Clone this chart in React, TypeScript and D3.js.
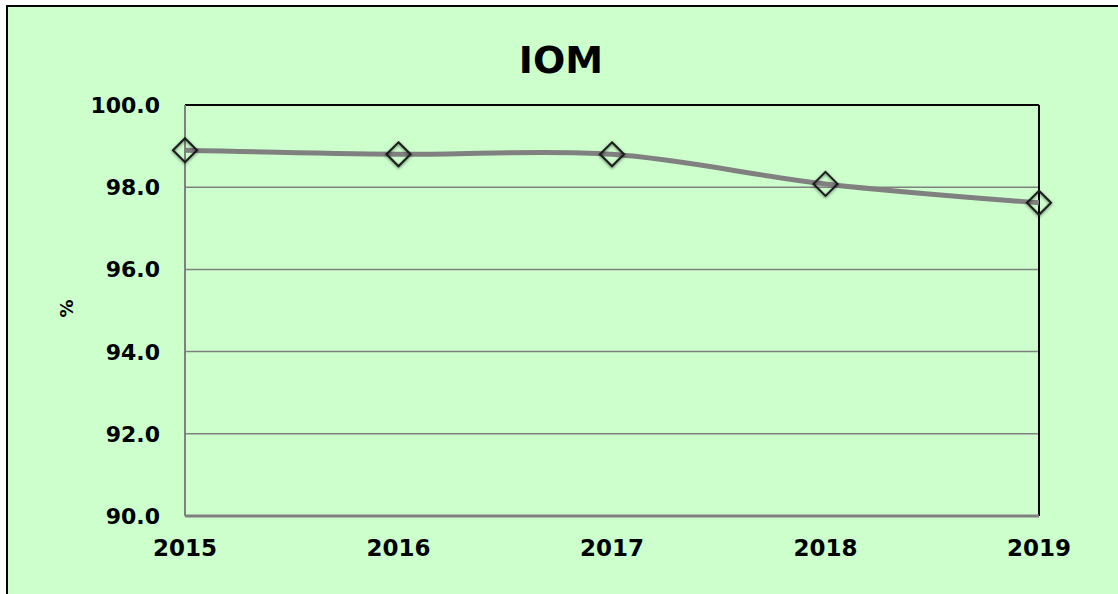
import * as d3 from "d3";
import React from "react";

const years = ["2015", "2016", "2017", "2018", "2019"];
const values = [98.9, 98.8, 98.8, 98.08, 97.62];
const yTicks = [90, 92, 94, 96, 98, 100];

const width = 1118;
const height = 594;
const left = 185;
const top = 105;
const right = 1039;
const bottom = 516;
const font = "'DejaVu Sans', Verdana, sans-serif";

const App = () => {
  const xScale = d3.scalePoint<string>().domain(years).range([left, right]);
  const yScale = d3.scaleLinear().domain([90, 100]).range([bottom, top]);

  const line = d3
    .line<number>()
    .x((d, i) => xScale(years[i]) as number)
    .y((d) => yScale(d))
    .curve(d3.curveCatmullRom.alpha(0.5));

  const r = 12;

  return (
    <svg
      width={width}
      height={height}
      style={{ position: "absolute", left: 0, top: 0, background: "#fff" }}
    >
      <defs>
        <filter id="shadow" x="-50%" y="-50%" width="200%" height="200%">
          <feDropShadow dx="0" dy="1" stdDeviation="1.8" floodColor="#000" floodOpacity="0.55" />
        </filter>
      </defs>
      <rect x={7} y={6} width={1125} height={600} fill="#ccffcc" stroke="#000" strokeWidth={2} />

      <text x={561} y={73} textAnchor="middle" fontFamily={font} fontWeight="bold" fontSize={38}>
        IOM
      </text>

      {yTicks.slice(1, 5).map((t) => (
        <line key={t} x1={left} x2={right} y1={yScale(t)} y2={yScale(t)} stroke="#808080" strokeWidth={1.5} />
      ))}
      <line x1={left} x2={right} y1={top} y2={top} stroke="#000" strokeWidth={2} />
      <line x1={right} x2={right} y1={top} y2={bottom} stroke="#000" strokeWidth={2} />
      <line x1={left} x2={left} y1={top} y2={bottom} stroke="#808080" strokeWidth={2} />
      <line x1={left} x2={right} y1={bottom} y2={bottom} stroke="#808080" strokeWidth={3} />

      {yTicks.map((t) => (
        <text
          key={t}
          x={160}
          y={yScale(t) + 8}
          textAnchor="end"
          fontFamily={font}
          fontWeight="bold"
          fontSize={22}
        >
          {t.toFixed(1)}
        </text>
      ))}

      {years.map((y) => (
        <text
          key={y}
          x={xScale(y)}
          y={556}
          textAnchor="middle"
          fontFamily={font}
          fontWeight="bold"
          fontSize={23}
        >
          {y}
        </text>
      ))}

      <text
        transform={`translate(73,${(top + bottom) / 2 - 2}) rotate(-90)`}
        textAnchor="middle"
        fontFamily={font}
        fontWeight="bold"
        fontSize={18}
      >
        %
      </text>

      <path d={line(values) || ""} fill="none" stroke="#808080" strokeWidth={5} />

      {values.map((v, i) => {
        const cx = xScale(years[i]) as number;
        const cy = yScale(v);
        return (
          <path
            key={i}
            d={`M${cx},${cy - r}L${cx + r},${cy}L${cx},${cy + r}L${cx - r},${cy}Z`}
            fill="none"
            stroke="#1a1a1a"
            strokeWidth={2}
            filter="url(#shadow)"
          />
        );
      })}
    </svg>
  );
};

export default App;
